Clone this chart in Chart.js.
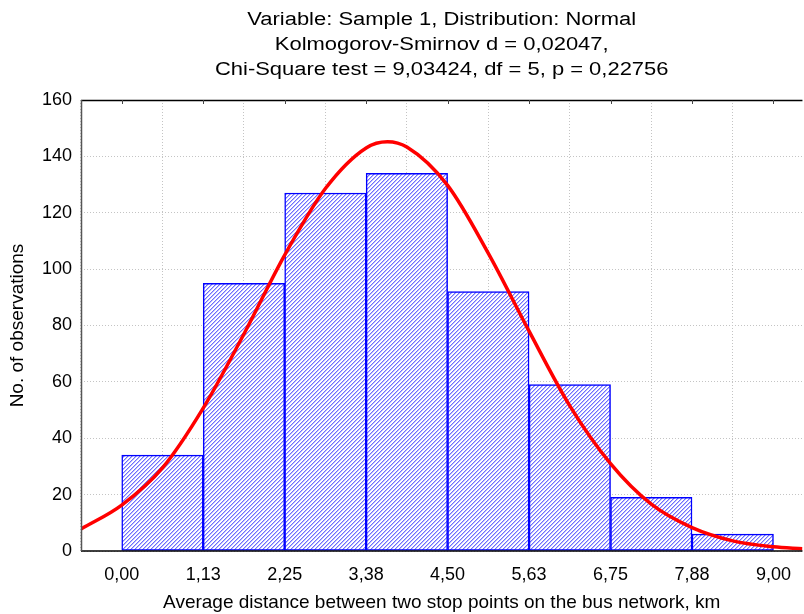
<!DOCTYPE html>
<html><head><meta charset="utf-8">
<script src="https://cdn.jsdelivr.net/npm/chart.js@4.4.1/dist/chart.umd.min.js"></script>
<style>html,body{margin:0;padding:0;background:#fff}#wrap{width:804px;height:614px;position:relative}</style>
</head><body><div id="wrap"><canvas id="c"></canvas></div>
<script>
const titleLines = [
  'Variable: Sample 1, Distribution: Normal',
  'Kolmogorov-Smirnov d = 0,02047,',
  'Chi-Square test = 9,03424, df = 5, p = 0,22756'
];
const xAxisTitle = 'Average distance between two stop points on the bus network, km';
const yAxisTitle = 'No. of observations';
const xTickValues = [0, 1.125, 2.25, 3.375, 4.5, 5.625, 6.75, 7.875, 9];
const xTickLabels = ['0,00', '1,13', '2,25', '3,38', '4,50', '5,63', '6,75', '7,88', '9,00'];
const binCenters = [0.5625, 1.6875, 2.8125, 3.9375, 5.0625, 6.1875, 7.3125, 8.4375];
const binCounts = [34, 95, 127, 134, 92, 59, 19, 6];
const curveX = [-0.5625, 0, 0.5625, 1.125, 1.6875, 2.25, 2.8125, 3.375, 3.67, 3.9375, 4.5, 5.0625, 5.625, 6.1875, 6.75, 7.3125, 7.875, 8.4375, 9, 9.4];
const curveY = [7.8, 16.3, 29.5, 50.7, 77, 105, 128.6, 143, 145.2, 143.3, 129.7, 105.6, 78, 51.5, 31, 16.6, 8.3, 3.6, 1.5, 0.8];

const FONT = "'Liberation Sans', Arial, sans-serif";

function makePattern() {
  const p = document.createElement('canvas');
  p.width = 4; p.height = 4;
  const g = p.getContext('2d');
  g.fillStyle = '#ffffff';
  g.fillRect(0, 0, 4, 4);
  for (let i = 0; i < 4; i++) {
    g.fillStyle = '#6e6eff';
    g.fillRect(i, 3 - i, 1, 1);
    g.fillStyle = '#bcbcff';
    g.fillRect((i + 1) % 4, 3 - i, 1, 1);
  }
  return g.createPattern(p, 'repeat');
}

const framePlugin = {
  id: 'frame',
  afterDraw(chart) {
    const ctx = chart.ctx, a = chart.chartArea;
    ctx.save();
    ctx.strokeStyle = '#000';
    ctx.lineWidth = 1.5;
    ctx.beginPath();
    ctx.moveTo(a.left, a.top + 0.5); ctx.lineTo(a.right, a.top + 0.5);
    ctx.moveTo(a.left, a.bottom); ctx.lineTo(a.right, a.bottom);
    ctx.stroke();
    ctx.strokeStyle = '#555';
    ctx.beginPath();
    ctx.moveTo(a.left + 0.5, a.top); ctx.lineTo(a.left + 0.5, a.bottom);
    ctx.stroke();
    const xs = chart.scales.x;
    ctx.strokeStyle = '#444';
    ctx.lineWidth = 1;
    ctx.beginPath();
    xTickValues.forEach(v => { const px = Math.round(xs.getPixelForValue(v)) + 0.5; ctx.moveTo(px, a.top); ctx.lineTo(px, a.top + 4); });
    ctx.stroke();
    ctx.fillStyle = '#000';
    ctx.font = '18px ' + FONT;
    ctx.textAlign = 'center';
    ctx.textBaseline = 'middle';
    const cx = (a.left + a.right) / 2;
    titleLines.forEach((t, i) => {
      ctx.save();
      ctx.translate(cx, 20 + i * 25);
      ctx.scale(1.22, 1);
      ctx.fillText(t, 0, 0);
      ctx.restore();
    });
    ctx.restore();
  }
};

new Chart(document.getElementById('c'), {
  type: 'bar',
  data: {
    datasets: [
      {
        type: 'line',
        data: curveX.map((x, i) => ({ x: x, y: curveY[i] })),
        borderColor: '#ff0000',
        borderWidth: 3.5,
        pointRadius: 0,
        cubicInterpolationMode: 'monotone',
        fill: false,
        order: 0
      },
      {
        type: 'bar',
        data: binCenters.map((x, i) => ({ x: x, y: binCounts[i] })),
        backgroundColor: makePattern(),
        borderColor: '#0000ff',
        borderWidth: 1.5,
        borderSkipped: false,
        barPercentage: 1,
        categoryPercentage: 1,
        order: 1
      }
    ]
  },
  options: {
    responsive: true,
    maintainAspectRatio: false,
    animation: false,
    layout: { padding: { top: 100, right: 0, left: 0, bottom: 0 } },
    plugins: { legend: { display: false }, tooltip: { enabled: false }, title: { display: false } },
    scales: {
      x: {
        type: 'linear',
        min: -0.5625,
        max: 9.4,
        offset: false,
        afterBuildTicks(s) { s.ticks = xTickValues.map(v => ({ value: v })); },
        afterFit(s) { s.height = 63; },
        ticks: {
          autoSkip: false,
          maxRotation: 0,
          padding: 13,
          color: '#000',
          font: { family: FONT, size: 18 },
          callback(v) { const i = xTickValues.indexOf(v); return i >= 0 ? xTickLabels[i] : ''; }
        },
        grid: { color: '#c4c4c4', lineWidth: 1, drawTicks: false },
        border: { display: false, dash: [1, 2] },
        title: { display: true, text: xAxisTitle, color: '#000', font: { family: FONT, size: 19 }, padding: { top: 5, bottom: 0 } }
      },
      y: {
        min: 0,
        max: 160,
        afterFit(s) { s.width = 81; },
        ticks: { stepSize: 20, padding: 9, color: '#000', font: { family: FONT, size: 18 } },
        grid: { color: '#c4c4c4', lineWidth: 1, drawTicks: false },
        border: { display: false, dash: [1, 2] },
        title: { display: true, text: yAxisTitle, color: '#000', font: { family: FONT, size: 19 }, padding: { top: 6, bottom: 0 } }
      }
    }
  },
  plugins: [framePlugin]
});
</script></body></html>
